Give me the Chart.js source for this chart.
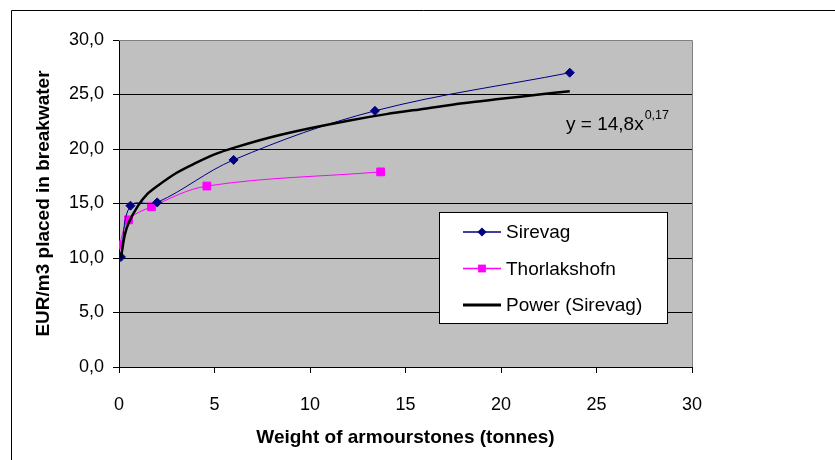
<!DOCTYPE html>
<html>
<head>
<meta charset="utf-8">
<script src="https://cdn.jsdelivr.net/npm/chart.js@4.4.0/dist/chart.umd.min.js"></script>
<style>
html, body { margin: 0; padding: 0; background: #fff; }
</style>
</head>
<body>
<canvas id="myChart" width="835" height="460"></canvas>
<script>
// values
let sirevagX = [0.1, 0.6, 2.0, 6.0, 13.4, 23.6];
let sirevagY = [10.1, 14.8, 15.1, 19.0, 23.5, 27.0];
let thorlakX = [0.02, 0.5, 1.7, 4.6, 13.7];
let thorlakY = [11.2, 13.5, 14.7, 16.6, 17.9];
// trendline
let powerX = [0.1, 0.3, 0.5, 1, 1.5, 2, 3, 4, 5, 6, 8, 10, 12, 14, 16, 18, 20, 22, 23.6];
let powerY = [10.0, 12.1, 13.2, 14.8, 15.9, 16.6, 17.8, 18.7, 19.5, 20.1, 21.1, 21.9, 22.6, 23.2, 23.7, 24.2, 24.6, 25.0, 25.3];
let xTicks = [0, 5, 10, 15, 20, 25, 30];
let yTicks = [0, 5, 10, 15, 20, 25, 30];

function pts(xs, ys) {
    return xs.map((x, i) => ({ x: x, y: ys[i] }));
}

const FONT = '"Liberation Sans", Arial, sans-serif';

let background = {
    id: 'background',
    beforeDraw(chart) {
        let c = chart.ctx, a = chart.chartArea;
        c.save();
        c.fillStyle = '#fff';
        c.fillRect(0, 0, chart.width, chart.height);
        c.strokeStyle = '#000';
        c.lineWidth = 1;
        c.beginPath();
        c.moveTo(11.5, chart.height);
        c.lineTo(11.5, 10.5);
        c.lineTo(chart.width, 10.5);
        c.stroke();
        c.fillStyle = '#c0c0c0';
        c.fillRect(a.left, a.top, a.right - a.left, a.bottom - a.top);
        c.restore();
    },
    beforeDatasetsDraw(chart) {
        let c = chart.ctx, a = chart.chartArea;
        c.save();
        c.strokeStyle = '#808080';
        c.lineWidth = 1;
        c.beginPath();
        c.moveTo(a.left, a.top + 0.5);
        c.lineTo(a.right + 0.5, a.top + 0.5);
        c.lineTo(a.right + 0.5, a.bottom);
        c.stroke();
        c.restore();
    }
};

function marker(c, style, r, x, y) {
    c.beginPath();
    if (style === 'rectRot') {
        c.moveTo(x, y - r); c.lineTo(x + r, y); c.lineTo(x, y + r); c.lineTo(x - r, y);
        c.closePath();
    } else {
        let s = r * Math.SQRT1_2;
        c.rect(x - s, y - s, 2 * s, 2 * s);
    }
    c.fill();
}

let boxLegend = {
    id: 'boxLegend',
    afterDraw(chart) {
        let c = chart.ctx;
        c.save();
        c.fillStyle = '#fff';
        c.fillRect(439.5, 212.5, 228, 111);
        c.strokeStyle = '#000';
        c.lineWidth = 1;
        c.strokeRect(439.5, 212.5, 228, 111);
        c.font = '19px ' + FONT;
        c.textBaseline = 'middle';
        chart.data.datasets.forEach((ds, i) => {
            let y = 232 + i * 36.5;
            c.strokeStyle = ds.borderColor;
            c.lineWidth = ds.legendWidth;
            c.beginPath();
            c.moveTo(463, y);
            c.lineTo(501, y);
            c.stroke();
            if (ds.pointRadius > 0) {
                c.fillStyle = ds.pointBackgroundColor;
                marker(c, ds.pointStyle, ds.pointRadius, 482, y);
            }
            c.fillStyle = '#000';
            c.fillText(ds.label, 506, y + 1);
        });

        // trendline equation
        c.font = '19px ' + FONT;
        c.textBaseline = 'alphabetic';
        c.fillStyle = '#000';
        let main = 'y = 14,8x';
        c.fillText(main, 566, 130);
        let w = c.measureText(main).width;
        c.font = '12.5px ' + FONT;
        c.fillText('0,17', 566 + w + 1, 119);
        c.restore();
    }
};

let ctx = document.getElementById('myChart').getContext('2d');
let myChart = new Chart(ctx, {
    type: 'scatter',
    data: {
        datasets: [{
            label: 'Sirevag',
            data: pts(sirevagX, sirevagY),
            showLine: true,
            borderColor: '#000080',
            backgroundColor: '#000080',
            pointBackgroundColor: '#000080',
            pointBorderColor: '#000080',
            borderWidth: 1,
            legendWidth: 1.5,
            pointStyle: 'rectRot',
            pointRadius: 4.5,
            tension: 0.35,
            order: 1
        }, {
            label: 'Thorlakshofn',
            data: pts(thorlakX, thorlakY),
            showLine: true,
            borderColor: '#ff00ff',
            backgroundColor: '#ff00ff',
            pointBackgroundColor: '#ff00ff',
            pointBorderColor: '#ff00ff',
            borderWidth: 1,
            legendWidth: 1.5,
            pointStyle: 'rect',
            pointRadius: 5.5,
            tension: 0.35,
            order: 2
        }, {
            label: 'Power (Sirevag)',
            data: pts(powerX, powerY),
            showLine: true,
            borderColor: '#000',
            borderWidth: 2.5,
            legendWidth: 3,
            pointRadius: 0,
            tension: 0.3,
            order: 0
        }]
    },
    options: {
        responsive: false,
        animation: false,
        events: [],
        layout: {
            padding: { top: 40, right: 143, bottom: 11, left: 32 }
        },
        plugins: {
            legend: { display: false },
            tooltip: { enabled: false }
        },
        scales: {
            x: {
                type: 'linear',
                min: 0,
                max: 30,
                afterBuildTicks: s => { s.ticks = xTicks.map(v => ({ value: v })); },
                afterFit: s => { s.height = 82; },
                grid: {
                    drawOnChartArea: false,
                    color: '#000',
                    tickLength: 6
                },
                border: { color: '#000', width: 1 },
                ticks: {
                    color: '#000',
                    padding: 21,
                    maxRotation: 0,
                    font: { family: FONT, size: 18 }
                },
                title: {
                    display: true,
                    text: 'Weight of armourstones (tonnes)',
                    color: '#000',
                    padding: 0,
                    font: { family: FONT, size: 19, weight: 'bold' }
                }
            },
            y: {
                type: 'linear',
                min: 0,
                max: 30,
                afterBuildTicks: s => { s.ticks = yTicks.map(v => ({ value: v })); },
                afterFit: s => { s.width = 87; },
                grid: {
                    color: c => (c.tick && c.tick.value === 30) ? '#808080' : '#000',
                    tickColor: '#000',
                    tickLength: 6
                },
                border: { color: '#000', width: 1 },
                ticks: {
                    color: '#000',
                    padding: 9,
                    font: { family: FONT, size: 18 },
                    callback: v => v.toFixed(1).replace('.', ',')
                },
                title: {
                    display: true,
                    text: 'EUR/m3 placed in breakwater',
                    color: '#000',
                    padding: 0,
                    font: { family: FONT, size: 19, weight: 'bold' }
                }
            }
        }
    },
    plugins: [background, boxLegend]
});
</script>
</body>
</html>
